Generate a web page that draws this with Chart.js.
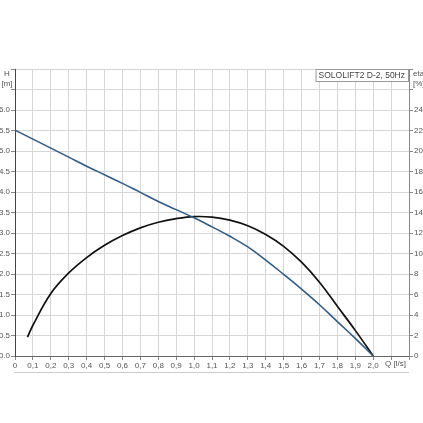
<!DOCTYPE html>
<html>
<head>
<meta charset="utf-8">
<script src="https://cdn.jsdelivr.net/npm/chart.js@4.4.1/dist/chart.umd.min.js"></script>
<style>
  html, body { margin: 0; padding: 0; background: #fff; }
  #wrap { width: 423px; height: 423px; }
</style>
</head>
<body>
<div id="wrap"><canvas id="grafico" width="423" height="423"></canvas></div>
<script>
// curva H (altura manometrica) em m
const q_altura = [0, 0.1, 0.2, 0.3, 0.4, 0.5, 0.6, 0.7, 0.8, 0.9, 1.0, 1.1, 1.2, 1.3, 1.4, 1.5, 1.6, 1.7, 1.8, 1.9, 2.0];
const altura = [5.51, 5.29, 5.07, 4.85, 4.63, 4.42, 4.21, 3.99, 3.77, 3.57, 3.37, 3.15, 2.92, 2.66, 2.34, 1.99, 1.63, 1.25, 0.84, 0.43, 0.0];

// curva eta (rendimento) em %
const q_eta = [0.07, 0.1, 0.2, 0.3, 0.4, 0.5, 0.6, 0.7, 0.8, 0.9, 1.0, 1.1, 1.2, 1.3, 1.4, 1.5, 1.6, 1.7, 1.8, 1.9, 2.0];
const eta = [1.85, 3.0, 6.1, 8.1, 9.6, 10.8, 11.75, 12.5, 13.05, 13.4, 13.6, 13.55, 13.25, 12.7, 11.85, 10.7, 9.15, 7.2, 4.85, 2.5, 0.0];

const legenda = "SOLOLIFT2 D-2, 50Hz";

// juntar x e y pros pontos
function pontos(xs, ys) {
  let arr = [];
  xs.forEach((x, i) => arr.push({ x: x, y: ys[i] }));
  return arr;
}

const fonte = "8px 'Liberation Sans', Arial, sans-serif";
const corTexto = "#555";

// textos extras (rotulos dos eixos e caixa da legenda)
const extras = {
  id: "extras",
  afterDraw(chart) {
    const ctx = chart.ctx;
    const area = chart.chartArea;
    ctx.save();
    ctx.font = fonte;
    ctx.fillStyle = corTexto;
    ctx.textBaseline = "middle";
    ctx.textAlign = "center";
    ctx.fillText("H", 7, 74);
    ctx.fillText("[m]", 7, 84);
    ctx.textAlign = "left";
    ctx.fillText("eta", 413, 74);
    ctx.fillText("[%]", 413, 84);
    ctx.fillText("Q [l/s]", 385, 364);

    // caixa da legenda
    ctx.font = "8.5px 'Liberation Sans', Arial, sans-serif";
    const w = ctx.measureText(legenda).width + 6;
    const x0 = area.right - w - 1;
    ctx.fillStyle = "#fff";
    ctx.fillRect(x0, area.top, w, 12);
    ctx.strokeStyle = "#999";
    ctx.lineWidth = 1;
    ctx.strokeRect(x0 + 0.5, area.top + 0.5, w, 12);
    ctx.fillStyle = "#444";
    ctx.fillText(legenda, x0 + 3, area.top + 7);

    // linha embaixo dos rotulos
    ctx.strokeStyle = "#ccc";
    ctx.beginPath();
    ctx.moveTo(14, 372.5);
    ctx.lineTo(409, 372.5);
    ctx.stroke();
    ctx.restore();
  }
};

let ctx = document.getElementById("grafico");
let grafico = new Chart(ctx, {
  type: "scatter",
  data: {
    datasets: [
      {
        label: "H",
        data: pontos(q_altura, altura),
        showLine: true,
        borderColor: "#2f5c8a",
        borderWidth: 1.6,
        pointRadius: 0,
        tension: 0.4,
        yAxisID: "y"
      },
      {
        label: "eta",
        data: pontos(q_eta, eta),
        showLine: true,
        borderColor: "#111",
        borderWidth: 1.7,
        pointRadius: 0,
        tension: 0.4,
        yAxisID: "y2"
      }
    ]
  },
  options: {
    responsive: false,
    animation: false,
    layout: { padding: { top: 69, bottom: 0, left: 0, right: 0 } },
    plugins: { legend: { display: false }, tooltip: { enabled: false } },
    scales: {
      x: {
        type: "linear",
        min: 0,
        max: 2.2,
        ticks: {
          stepSize: 0.1,
          autoSkip: false,
          maxRotation: 0,
          padding: 1,
          color: corTexto,
          font: { family: "'Liberation Sans', Arial, sans-serif", size: 8 },
          callback: (v) => {
            let r = Math.round(v * 10) / 10;
            if (r > 2.0) return "";
            if (r == 0) return "0";
            return r.toFixed(1).replace(".", ",");
          }
        },
        grid: { color: "#d6d6d6", tickLength: 4, tickColor: "#888" },
        border: { color: "#666", width: 1 },
        afterFit: (s) => { s.height = 423 - 69 - 287; }
      },
      y: {
        position: "left",
        min: 0,
        max: 7,
        ticks: {
          stepSize: 0.5,
          padding: 1,
          color: corTexto,
          font: { family: "'Liberation Sans', Arial, sans-serif", size: 8 },
          callback: (v) => (v > 6 ? "" : v.toFixed(1))
        },
        grid: { color: "#d6d6d6", tickLength: 4, tickColor: "#888" },
        border: { color: "#444", width: 1 },
        afterFit: (s) => { s.width = 15; }
      },
      y2: {
        position: "right",
        min: 0,
        max: 28,
        ticks: {
          stepSize: 2,
          padding: 1,
          color: corTexto,
          font: { family: "'Liberation Sans', Arial, sans-serif", size: 8 },
          callback: (v) => (v > 24 ? "" : v)
        },
        grid: { drawOnChartArea: false, tickLength: 4, tickColor: "#888" },
        border: { color: "#888", width: 1 },
        afterFit: (s) => { s.width = 423 - 409; }
      }
    }
  },
  plugins: [extras]
});
</script>
</body>
</html>
